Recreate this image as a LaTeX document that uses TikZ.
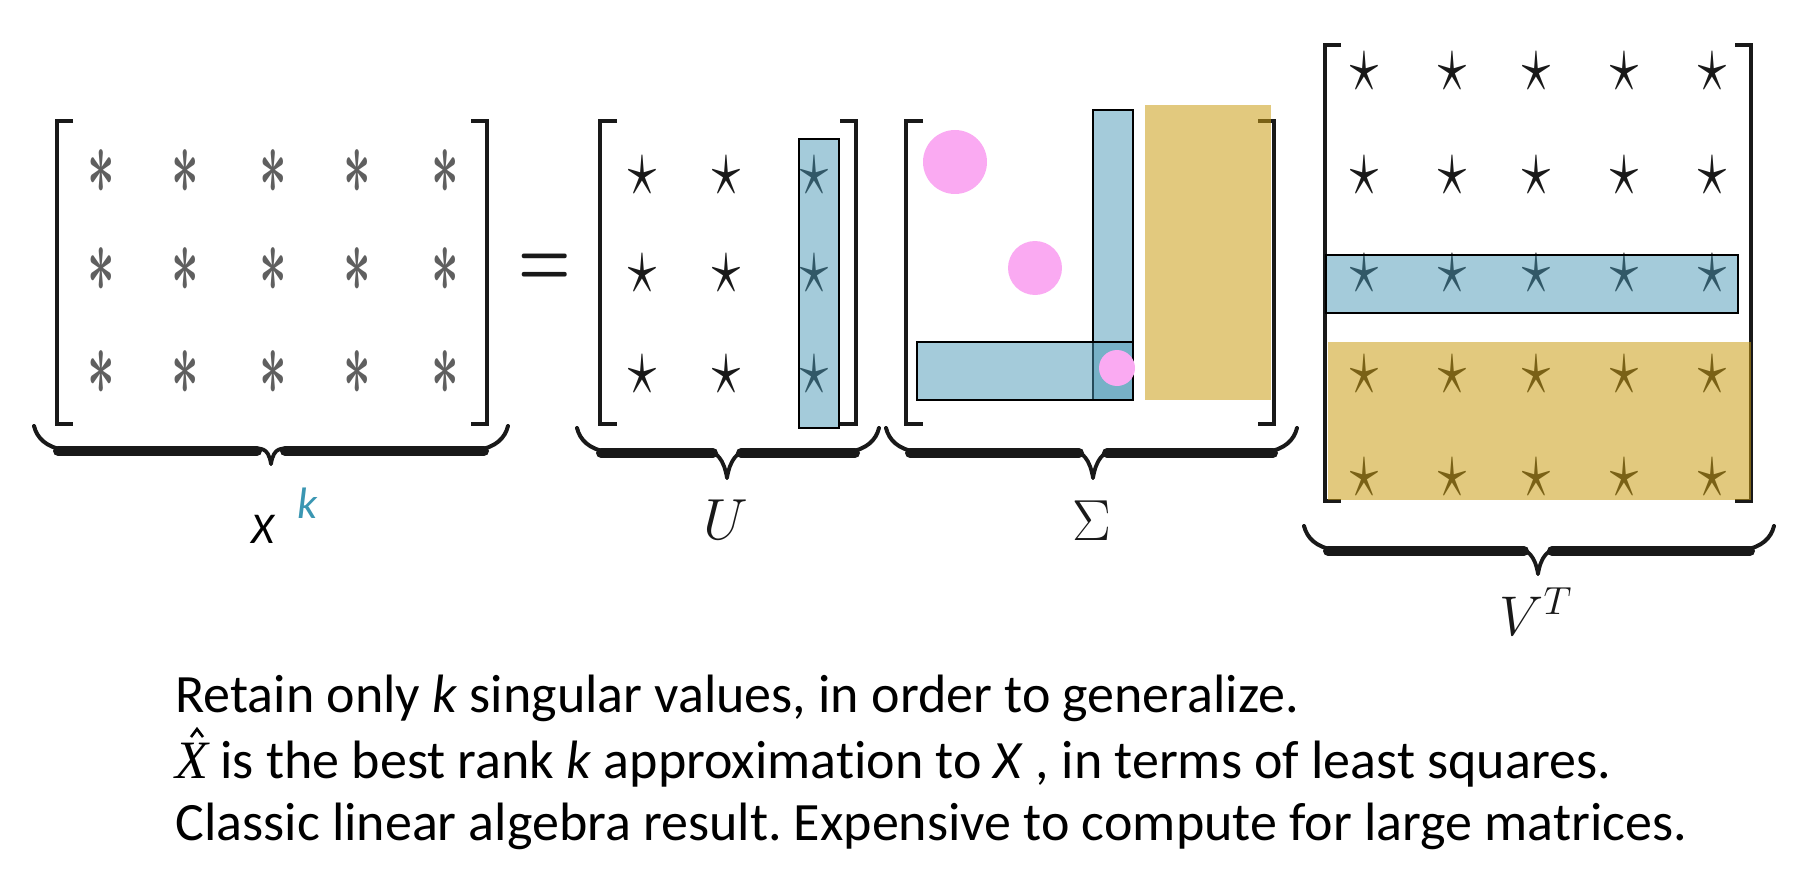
\RequirePackage{fix-cm}
\documentclass[tikz,border=0pt]{standalone}
\usepackage[no-math]{fontspec}
\setmainfont{Carlito}[Ligatures=NoCommon]
\newfontfamily\hatserif{Liberation Serif}
\frenchspacing
\definecolor{bluef}{RGB}{74,151,181}
\definecolor{goldf}{RGB}{202,157,20}
\definecolor{pinkf}{RGB}{250,170,242}
\definecolor{tealk}{RGB}{58,150,178}
\definecolor{ink}{RGB}{25,25,25}
\definecolor{astc}{RGB}{95,95,95}
% underbrace: x0, xmid, x1, top y, tip depth below top
\newcommand{\ubr}[5]{%
  \draw[brthin] (#1,#4) .. controls (#1+3,#4+12) and (#1+12,#4+21) .. (#1+30,#4+24);
  \draw[brthin] (#3,#4) .. controls (#3-3,#4+12) and (#3-12,#4+21) .. (#3-30,#4+24);
  \draw[brbar] (#1+24,#4+25) -- (#2-14,#4+25);
  \draw[brbar] (#2+14,#4+25) -- (#3-24,#4+25);
  \draw[brtip] (#2-22,#4+22) .. controls (#2-10,#4+23) and (#2-3,#4+#5-18) .. (#2,#4+#5);
  \draw[brtip] (#2+22,#4+22) .. controls (#2+10,#4+23) and (#2+3,#4+#5-18) .. (#2,#4+#5);
}
\begin{document}
\begin{tikzpicture}[x=0.5pt,y=-0.5pt,
  brk/.style={line width=2.2pt, draw=ink, line cap=butt},
  mstar/.style={inner sep=0pt, font=\fontsize{30}{36}\selectfont, text=ink},
  mast/.style={inner sep=0pt, font=\fontsize{30}{36}\selectfont, text=astc},
  bluebox/.style={fill=bluef, fill opacity=0.5, draw=black, draw opacity=1, line width=1pt},
  goldbox/.style={fill=goldf, fill opacity=0.55, draw=none},
  pinkdot/.style={fill=pinkf, draw=none},
  brthin/.style={draw=ink, line width=2pt, line cap=round},
  brbar/.style={draw=ink, line width=5pt, line cap=round},
  brtip/.style={draw=ink, line width=1.9pt, line cap=round, line join=round},
  hatmark/.style={draw=black, line width=1.3pt, line join=miter},
  mlabel/.style={inner sep=0pt, anchor=base, font=\fontsize{29}{34}\selectfont, text=ink},
  body/.style={inner sep=0pt, anchor=base west, font=\fontsize{27}{32}\selectfont}
]
\useasboundingbox (0,0) rectangle (1816,872);

% ---------- X matrix ----------
\foreach \c [count=\i] in {101,185,273,357,445}
  \foreach \r [count=\j] in {172,270,373}
    \node[mast] (x\j\i) at (\c,\r) {\scalebox{0.8}[1.55]{\boldmath$\ast$}};
\draw[brk] (73,121) -- (57,121) -- (57,424) -- (73,424);
\draw[brk] (471,121) -- (487,121) -- (487,424) -- (471,424);
\ubr{34}{271}{508}{426}{38}
\node[inner sep=0pt, anchor=base, font=\fontsize{22}{26}\selectfont\itshape] (xl) at (263,543) {X};
\node[inner sep=0pt, anchor=base, font=\fontsize{22}{26}\selectfont\itshape, text=tealk] (kl) at (307,518) {k};

% equals
\node[inner sep=0pt, font=\fontsize{30}{36}\selectfont, text=ink] (eq) at (545,270) {\scalebox{1}[1.4]{\boldmath$=$}};

% ---------- U matrix ----------
\foreach \c [count=\i] in {642,726,814}
  \foreach \r [count=\j] in {176,274,375}
    \node[mstar] (u\j\i) at (\c,\r) {\scalebox{0.95}[1.4]{$\star$}};
\draw[brk] (617,121) -- (600,121) -- (600,424) -- (617,424);
\draw[brk] (840,121) -- (856,121) -- (856,424) -- (840,424);
\draw[bluebox] (799,139) rectangle (839,428);
\ubr{577}{727}{879}{428}{50}
\node[mlabel] (ul) at (726,539) {$U$};

% ---------- Sigma matrix ----------
\draw[brk] (923,121) -- (906,121) -- (906,424) -- (923,424);
\draw[brk] (1258,121) -- (1274,121) -- (1274,424) -- (1258,424);
\fill[goldbox] (1145,105) rectangle (1271,400);
\draw[bluebox] (1093,110) rectangle (1133,400);
\draw[bluebox] (917,342) rectangle (1133,400);
\fill[pinkdot] (955,162) circle[radius=16pt];
\fill[pinkdot] (1035,268) circle[radius=13.5pt];
\fill[pinkdot] (1117,368) circle[radius=9pt];
\ubr{886}{1093}{1297}{428}{50}
\node[mlabel] (sl) at (1092,540) {$\Sigma$};

% ---------- V^T matrix ----------
\foreach \c [count=\i] in {1364,1452,1536,1624,1712}
  \foreach \r [count=\j] in {72,176,274,375,478}
    \node[mstar] (v\j\i) at (\c,\r) {\scalebox{0.95}[1.4]{$\star$}};
\draw[brk] (1341,45) -- (1325,45) -- (1325,501) -- (1341,501);
\draw[brk] (1735,45) -- (1751,45) -- (1751,501) -- (1735,501);
\draw[bluebox] (1326,255) rectangle (1738,313);
\fill[goldbox] (1328,342) rectangle (1751,500);
\ubr{1304}{1538}{1774}{526}{48}
\node[mlabel, font=\fontsize{28}{34}\selectfont] (vl) at (1536,635) {$V^T$};

% ---------- text ----------
\node[body] (t1) at (175,712) {Retain only \textit{k} singular values, in order to generalize.};
\node[body] (t2) at (175,778) {{\hatserif\itshape X} is the best rank \textit{k} approximation to \textit{X} , in terms of least squares.};
\draw[hatmark] ([shift={(16,-41)}]t2.base west) -- ++(6,-8) -- ++(6,8);
\node[body] (t3) at (175,840) {Classic linear algebra result. Expensive to compute for large matrices.};
\end{tikzpicture}
\end{document}
